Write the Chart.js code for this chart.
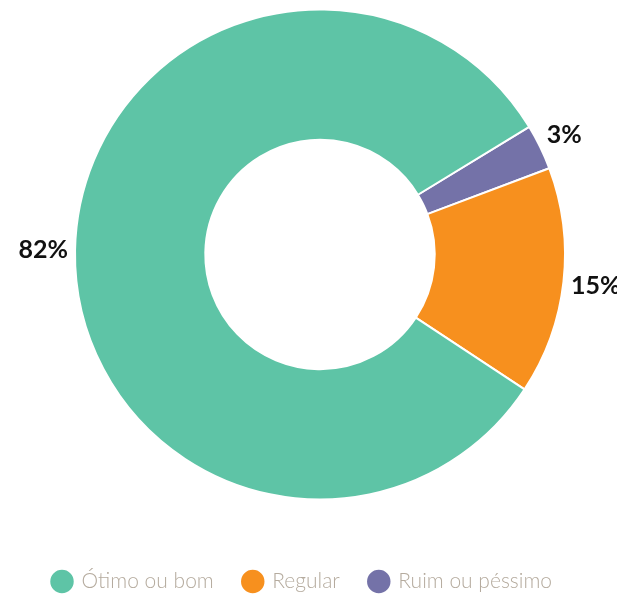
<!DOCTYPE html>
<html lang="pt-BR">
<head>
<meta charset="utf-8">
<title>Avaliação</title>
<script src="https://cdn.jsdelivr.net/npm/chart.js@4.4.1/dist/chart.umd.min.js"></script>
<style>
  html, body { margin: 0; padding: 0; background: #fff; }
  #wrap { width: 617px; height: 594px; position: relative; }
</style>
</head>
<body>
<div id="wrap"><canvas id="avaliacaoChart"></canvas></div>
<script>
// fatias em sentido horário a partir do topo (legenda exibida invertida)
const categorias = ['Ruim ou péssimo', 'Regular', 'Ótimo ou bom'];
const percentuais = [3, 15, 82];
const cores = ['#7472a8', '#f7901e', '#5ec4a6'];

// rótulos de porcentagem do lado de fora do anel
const rotulosExternos = {
  id: 'rotulosExternos',
  afterDatasetsDraw(chart) {
    const ctx = chart.ctx;
    const meta = chart.getDatasetMeta(0);
    ctx.save();
    ctx.font = 'bold 25px Lato, "DejaVu Sans", sans-serif';
    ctx.fillStyle = '#111';
    ctx.textAlign = 'center';
    ctx.textBaseline = 'middle';
    meta.data.forEach((arc, i) => {
      const texto = percentuais[i] + '%';
      const meio = (arc.startAngle + arc.endAngle) / 2;
      const w = ctx.measureText(texto).width;
      const h = 18;
      const cos = Math.cos(meio), sin = Math.sin(meio);
      const dist = arc.outerRadius + 7 + Math.abs(cos) * w / 2 + Math.abs(sin) * h / 2;
      ctx.fillText(texto, arc.x + cos * dist, arc.y + sin * dist);
    });
    ctx.restore();
  }
};

new Chart(document.getElementById('avaliacaoChart'), {
  type: 'doughnut',
  data: {
    labels: categorias,
    datasets: [{
      data: percentuais,
      backgroundColor: cores,
      borderColor: '#ffffff',
      borderWidth: 2
    }]
  },
  options: {
    responsive: true,
    maintainAspectRatio: false,
    animation: false,
    rotation: 58.6,
    radius: 245,
    cutout: 114,
    layout: { padding: { left: 23, top: 10, right: 0, bottom: -8 } },
    plugins: {
      tooltip: { enabled: false },
      legend: {
        position: 'bottom',
        align: 'start',
        reverse: true,
        // título vazio só para abrir espaço entre o anel e a legenda
        title: { display: true, text: '', padding: 0, font: { size: 42, lineHeight: 1 } },
        labels: {
          usePointStyle: true,
          pointStyle: 'circle',
          boxWidth: 18,
          boxHeight: 18,
          padding: 30,
          color: '#b5ab9e',
          font: { family: 'Lato, "Open Sans", sans-serif', size: 21, weight: '300' }
        }
      }
    }
  },
  plugins: [rotulosExternos]
});
</script>
</body>
</html>
